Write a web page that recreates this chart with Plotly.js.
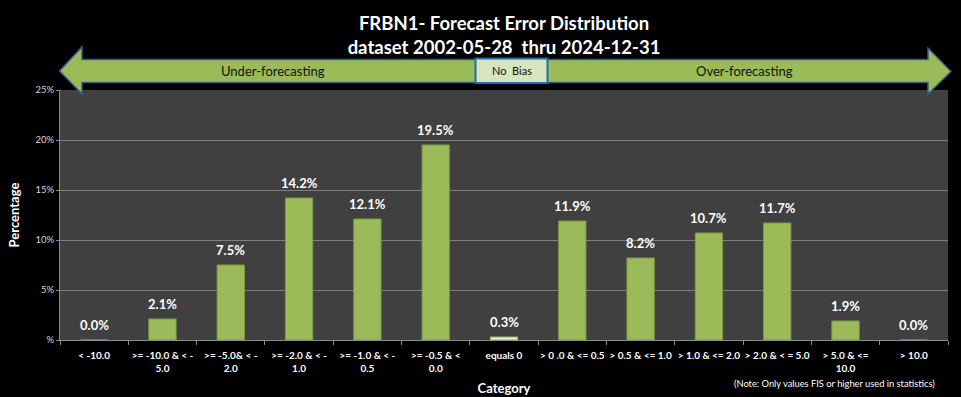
<!DOCTYPE html>
<html>
<head>
<meta charset="utf-8">
<script src="https://cdn.plot.ly/plotly-3.0.1.min.js"></script>
<style>
  html, body { margin: 0; padding: 0; background: #000; }
  #chart { width: 961px; height: 397px; }
</style>
</head>
<body>
<div id="chart"></div>
<script>
// ---- data ----
const categories = [
  "< -10.0",
  ">= -10.0 & < -<br>5.0",
  ">= -5.0& < -<br>2.0",
  ">= -2.0 & < -<br>1.0",
  ">= -1.0 & < -<br>0.5",
  ">= -0.5 & <<br>0.0",
  "equals 0",
  "> 0 .0 & <= 0.5",
  "> 0.5 & <= 1.0",
  "> 1.0 & <= 2.0",
  "> 2.0 & < = 5.0",
  "> 5.0 & <=<br>10.0",
  "> 10.0"
];
const percentages = [0.0, 2.1, 7.5, 14.2, 12.1, 19.5, 0.3, 11.9, 8.2, 10.7, 11.7, 1.9, 0.0];
const yTickVals = [0, 5, 10, 15, 20, 25];
const yTickText = ["%", "5%", "10%", "15%", "20%", "25%"];
const titleLines = ["FRBN1- Forecast Error Distribution", "dataset 2002-05-28  thru 2024-12-31"];
const arrowLabels = ["Under-forecasting", "No  Bias", "Over-forecasting"];
const noteText = "(Note: Only values FIS or higher used in statistics)";

// ---- layout helpers ----
const W = 961, H = 397;
const M = { l: 60, r: 13, t: 90, b: 57 };
const PW = W - M.l - M.r, PH = H - M.t - M.b;
const px = x => (x - M.l) / PW;       // pixel -> paper x
const py = y => (H - M.b - y) / PH;   // pixel -> paper y

const FONT = "Lato, 'Open Sans', sans-serif";
const GREEN = "#9bbb59";

const barColors = categories.map(c => c === "equals 0" ? "#e4ecd3" : GREEN);
const barLines = categories.map(c => c === "equals 0" ? "#9bbb59" : "#7d9a43");

const trace = {
  type: "bar",
  x: categories,
  y: percentages,
  width: 0.4,
  marker: { color: barColors, line: { color: barLines, width: 1 } },
  hoverinfo: "x+y"
};

// arrow path (decorative)
const pts = [
  [59.5, 71], [82, 47], [82, 59.5], [928, 59.5], [928, 48], [951, 71.5],
  [928, 94], [928, 82.5], [82, 82.5], [82, 94]
];
const arrowPath = "M " + pts.map(p => px(p[0]).toFixed(5) + "," + py(p[1]).toFixed(5)).join(" L ") + " Z";

const shapes = [
  { type: "path", xref: "paper", yref: "paper", path: arrowPath,
    fillcolor: GREEN, line: { color: "#385d8a", width: 1.5 }, layer: "above" },
  { type: "rect", xref: "paper", yref: "paper",
    x0: px(475.5), x1: px(547.5), y0: py(58.5), y1: py(83),
    fillcolor: "#d7e4bd", line: { color: "#1f6db5", width: 2 }, layer: "above" }
];

const annotations = percentages.map((v, i) => ({
  x: categories[i], y: v, xref: "x", yref: "y",
  text: v.toFixed(1) + "%", showarrow: false,
  yanchor: "bottom", yshift: 5,
  font: { family: FONT, size: 13, color: "#ffffff", weight: "bold" }
}));

annotations.push(
  { xref: "paper", yref: "paper", x: px(273), y: py(71), text: arrowLabels[0], showarrow: false,
    xanchor: "center", yanchor: "middle", font: { family: FONT, size: 13, color: "#111111" } },
  { xref: "paper", yref: "paper", x: px(511.5), y: py(70.5), text: arrowLabels[1], showarrow: false,
    xanchor: "center", yanchor: "middle", font: { family: FONT, size: 11, color: "#111111" } },
  { xref: "paper", yref: "paper", x: px(744), y: py(71), text: arrowLabels[2], showarrow: false,
    xanchor: "center", yanchor: "middle", font: { family: FONT, size: 13, color: "#111111" } },
  { xref: "paper", yref: "paper", x: px(937), y: py(383), text: noteText, showarrow: false,
    xanchor: "right", yanchor: "middle", font: { family: FONT, size: 9.3, color: "#ffffff" } }
);

const layout = {
  width: W, height: H,
  margin: M,
  paper_bgcolor: "#000000",
  plot_bgcolor: "#404040",
  showlegend: false,
  title: {
    text: titleLines.join("<br>"),
    x: 0.5, xanchor: "center", xref: "paper",
    y: 1 - 30 / H, yanchor: "middle",
    font: { family: FONT, size: 18.5, color: "#ffffff", weight: "bold", lineposition: "none" }
  },
  xaxis: {
    type: "category",
    tickson: "boundaries",
    ticks: "outside", ticklen: 4, tickcolor: "#8c8c8c",
    showline: true, linecolor: "#8c8c8c", linewidth: 1,
    showgrid: false,
    tickangle: 0,
    ticklabelstandoff: 6,
    tickfont: { family: FONT, size: 10, color: "#ffffff", weight: "bold" },
    title: { text: "Category", standoff: 10,
      font: { family: FONT, size: 13, color: "#ffffff", weight: "bold" } },
    fixedrange: true
  },
  yaxis: {
    range: [0, 25],
    tickvals: yTickVals, ticktext: yTickText,
    ticks: "outside", ticklen: 3, tickcolor: "#8c8c8c",
    showline: true, linecolor: "#8c8c8c", linewidth: 1,
    showgrid: true, gridcolor: "#7f7f7f", gridwidth: 1,
    zeroline: false,
    tickfont: { family: FONT, size: 9.5, color: "#d9d9d9" },
    title: { text: "Percentage", standoff: 12,
      font: { family: FONT, size: 13, color: "#ffffff", weight: "bold" } },
    fixedrange: true
  },
  shapes: shapes,
  annotations: annotations,
  bargap: 0.6
};

Plotly.newPlot("chart", [trace], layout, { displayModeBar: false, staticPlot: true });
</script>
</body>
</html>
